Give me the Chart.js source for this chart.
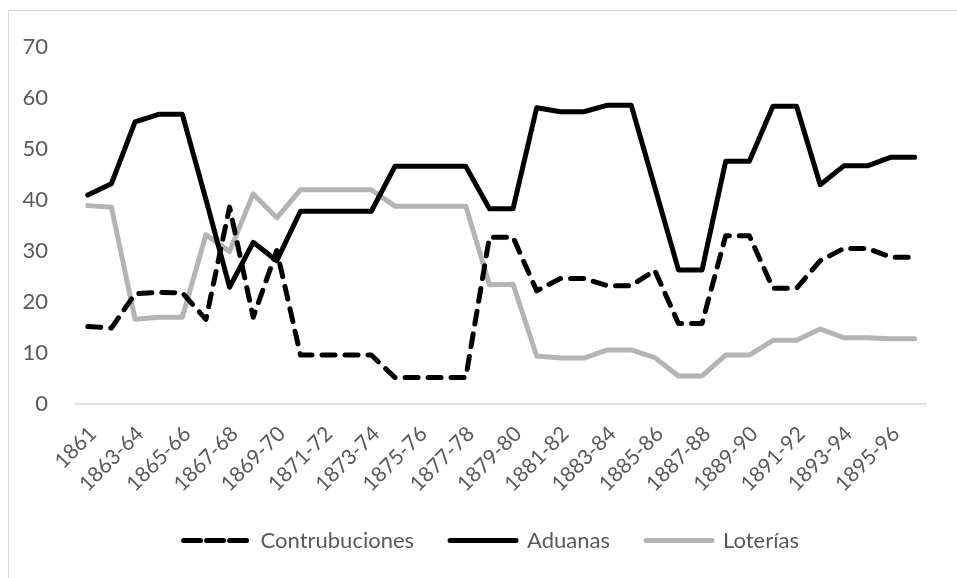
<!DOCTYPE html>
<html>
<head>
<meta charset="utf-8">
<script src="https://cdn.jsdelivr.net/npm/chart.js@4"></script>
<style>
  html, body { margin: 0; padding: 0; background: #fff; overflow: hidden; }
  #wrap { position: relative; width: 957px; height: 578px; overflow: hidden; }
  #frame { position: absolute; left: 8px; top: 10px; width: 1000px; height: 1000px; border: 1px solid #d9d9d9; box-sizing: border-box; }
  canvas { position: absolute; left: 0; top: 0; }
</style>
</head>
<body>
<div id="wrap">
  <div id="frame"></div>
  <canvas id="c" width="957" height="578"></canvas>
</div>
<script>
const categories = ['1861','1862','1863-64','1864-65','1865-66','1866-67','1867-68','1868-69','1869-70','1870-71',
  '1871-72','1872-73','1873-74','1874-75','1875-76','1876-77','1877-78','1878-79','1879-80','1880-81',
  '1881-82','1882-83','1883-84','1884-85','1885-86','1886-87','1887-88','1888-89','1889-90','1890-91',
  '1891-92','1892-93','1893-94','1894-95','1895-96','1896-97'];

const contribuciones = [15.1, 14.8, 21.5, 21.8, 21.7, 16.5, 38.5, 16.9, 30.0, 9.5,
  9.5, 9.5, 9.5, 5.1, 5.1, 5.1, 5.1, 32.6, 32.6, 22.1,
  24.5, 24.5, 23.1, 23.1, 26.1, 15.7, 15.7, 32.9, 32.9, 22.6,
  22.6, 28.0, 30.4, 30.4, 28.7, 28.7];

const aduanas = [40.9, 43.1, 55.2, 56.7, 56.7, 40.0, 22.8, 31.6, 28.0, 37.7,
  37.7, 37.7, 37.7, 46.5, 46.5, 46.5, 46.5, 38.2, 38.2, 58.0,
  57.2, 57.2, 58.5, 58.5, 42.4, 26.2, 26.2, 47.5, 47.5, 58.3,
  58.3, 42.9, 46.6, 46.6, 48.3, 48.3];

const loterias = [38.8, 38.5, 16.5, 16.9, 16.9, 33.1, 29.8, 41.1, 36.4, 41.9,
  41.9, 41.9, 41.9, 38.7, 38.7, 38.7, 38.7, 23.3, 23.4, 9.3,
  8.9, 8.9, 10.5, 10.5, 9.0, 5.4, 5.4, 9.5, 9.5, 12.4,
  12.4, 14.6, 12.9, 12.9, 12.7, 12.7];

const seriesNames = ['Contrubuciones', 'Aduanas', 'Loterías'];
const yTicks = { min: 0, max: 70, step: 10 };

const FONT = 'Lato, "Open Sans", sans-serif';
const TXT = '#595959';

const legendShift = {
  id: 'legendShift',
  afterLayout(chart) {
    if (chart.legend) { chart.legend.left += 56; }
  }
};

new Chart(document.getElementById('c'), {
  type: 'line',
  data: {
    labels: categories,
    datasets: [
      { label: seriesNames[0], data: contribuciones, borderColor: '#000', backgroundColor: '#000',
        borderWidth: 5, borderDash: [13, 10], borderCapStyle: 'round', borderJoinStyle: 'round',
        pointRadius: 0, tension: 0, fill: false },
      { label: seriesNames[1], data: aduanas, borderColor: '#000', backgroundColor: '#000',
        borderWidth: 5, borderCapStyle: 'round', borderJoinStyle: 'round',
        pointRadius: 0, tension: 0, fill: false },
      { label: seriesNames[2], data: loterias, borderColor: '#b4b4b4', backgroundColor: '#b4b4b4',
        borderWidth: 5, borderCapStyle: 'round', borderJoinStyle: 'round',
        pointRadius: 0, tension: 0, fill: false }
    ]
  },
  plugins: [legendShift],
  options: {
    responsive: false,
    animation: false,
    devicePixelRatio: 1,
    layout: { padding: { left: 0, right: 30.5, top: 46.5, bottom: 16.5 } },
    plugins: {
      tooltip: { enabled: false },
      legend: {
        position: 'bottom',
        labels: {
          color: TXT,
          font: { family: FONT, size: 22 },
          boxWidth: 66,
          boxHeight: 0,
          padding: 36
        }
      }
    },
    scales: {
      x: {
        offset: true,
        grid: { display: false },
        border: { display: true, color: '#d9d9d9', width: 1.5 },
        ticks: {
          color: TXT,
          font: { family: FONT, size: 21 },
          autoSkip: false,
          minRotation: 45,
          maxRotation: 45,
          padding: 10,
          labelOffset: 5,
          callback: function (v, i) { return i % 2 === 0 ? categories[i] : ''; }
        },
        afterFit: function (s) { s.height = 90; }
      },
      y: {
        min: yTicks.min,
        max: yTicks.max,
        grid: { display: false },
        border: { display: false },
        ticks: {
          stepSize: yTicks.step,
          color: TXT,
          font: { family: FONT, size: 22 },
          padding: 20
        },
        afterFit: function (s) { s.width = 76; }
      }
    }
  }
});
</script>
</body>
</html>
